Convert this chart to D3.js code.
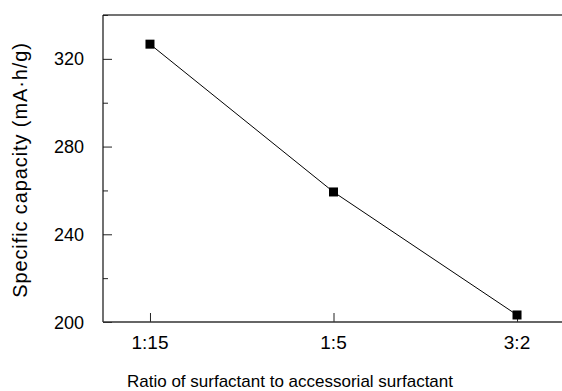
<!DOCTYPE html>
<html>
<head>
<meta charset="utf-8">
<script src="https://cdn.jsdelivr.net/npm/d3@7"></script>
<style>
  body { margin: 0; background: #fff; }
  text { font-family: "Liberation Sans", Arial, sans-serif; }
</style>
</head>
<body>
<div id="chart"></div>
<script>
const ratios = ["1:15", "1:5", "3:2"];
const capacity = [326.7, 259.3, 203.2];
const yTicks = [200, 240, 280, 320];
const yMinor = [220, 260, 300, 340];

const width = 562, height = 391;
const plotL = 103, plotR = 564, plotT = 15, plotB = 322;

const svg = d3.select("#chart").append("svg")
  .attr("width", width)
  .attr("height", height);

const x = d3.scalePoint().domain(ratios).range([plotL, plotR]).padding(0.256);
const y = d3.scaleLinear().domain([200, 340]).range([plotB, plotT]);

// frame (top + left + bottom)
svg.append("line").attr("x1", plotL).attr("x2", plotR).attr("y1", plotT).attr("y2", plotT)
  .attr("stroke", "#444").attr("stroke-width", 1.5);

const yAxis = svg.append("g")
  .attr("transform", `translate(${plotL},0)`)
  .call(d3.axisRight(y).tickValues(yTicks).tickSize(9).tickFormat(""));
yAxis.select(".domain").remove();
yAxis.selectAll(".tick line").attr("stroke", "#222");

svg.append("g")
  .attr("transform", `translate(${plotL},0)`)
  .call(d3.axisRight(y).tickValues(yMinor).tickSize(5).tickFormat(""))
  .call(g => g.select(".domain").remove())
  .selectAll(".tick line").attr("stroke", "#222");

svg.append("line").attr("x1", plotL).attr("x2", plotL).attr("y1", plotT).attr("y2", plotB)
  .attr("stroke", "#111").attr("stroke-width", 1.2);

svg.selectAll(".ylab").data(yTicks).join("text")
  .attr("class", "ylab")
  .attr("x", 84).attr("y", d => y(d) + 6.5)
  .attr("text-anchor", "end")
  .attr("font-size", 18)
  .text(d => d);

const xAxis = svg.append("g")
  .attr("transform", `translate(0,${plotB})`)
  .call(d3.axisTop(x).tickSize(9).tickFormat(""));
xAxis.select(".domain").remove();
xAxis.selectAll(".tick line").attr("stroke", "#222");

svg.append("line").attr("x1", plotL).attr("x2", plotR).attr("y1", plotB).attr("y2", plotB)
  .attr("stroke", "#333").attr("stroke-width", 1.3);

svg.selectAll(".xlab").data(ratios).join("text")
  .attr("class", "xlab")
  .attr("x", d => x(d)).attr("y", 349)
  .attr("text-anchor", "middle")
  .attr("font-size", 19)
  .text(d => d);

// series
const pts = ratios.map((r, i) => ({ r, v: capacity[i] }));
svg.append("path")
  .datum(pts)
  .attr("fill", "none")
  .attr("stroke", "#000")
  .attr("stroke-width", 1)
  .attr("d", d3.line().x(d => x(d.r)).y(d => y(d.v)));

svg.selectAll(".pt").data(pts).join("rect")
  .attr("class", "pt")
  .attr("x", d => x(d.r) - 4.5).attr("y", d => y(d.v) - 4.5)
  .attr("width", 9).attr("height", 9)
  .attr("fill", "#000");

// titles
svg.append("text")
  .attr("x", 290).attr("y", 387)
  .attr("text-anchor", "middle")
  .attr("font-size", 17)
  .text("Ratio of surfactant to accessorial surfactant");

svg.append("text")
  .attr("transform", "translate(27,170) rotate(-90)")
  .attr("text-anchor", "middle")
  .attr("font-size", 20)
  .attr("letter-spacing", 0.9)
  .text("Specific capacity (mA·h/g)");
</script>
</body>
</html>
